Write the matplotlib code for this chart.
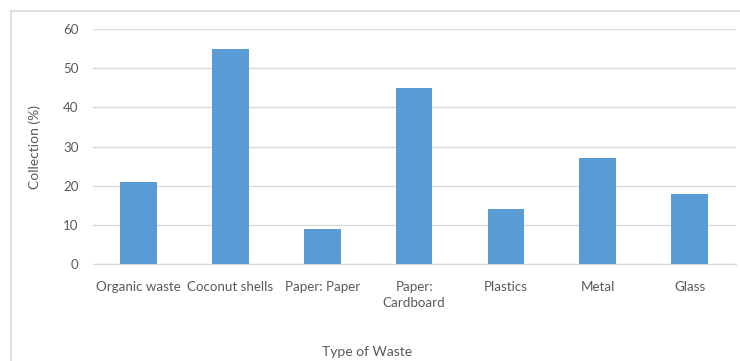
import matplotlib.pyplot as plt
from matplotlib.lines import Line2D

categories = ['Organic waste', 'Coconut shells', 'Paper: Paper', 'Paper:\nCardboard',
              'Plastics', 'Metal', 'Glass']
collection = [21, 55, 9, 45, 14, 27, 18]
yticks = [0, 10, 20, 30, 40, 50, 60]

textColor = '#595959'
plt.rcParams['font.family'] = ['Lato', 'DejaVu Sans']

fig = plt.figure(figsize=(7.40, 3.61), dpi=100)
W, H = 740, 361
ax = fig.add_axes([92.6 / W, 1 - 264 / H, (735.6 - 92.6) / W, (264 - 29) / H])

x = list(range(len(categories)))
ax.bar(x, collection, width=0.4, color='#5B9BD5', zorder=3)

ax.set_xlim(-0.5, len(categories) - 0.5)
ax.set_ylim(0, 60)
ax.set_yticks(yticks)
ax.set_xticks(x)
ax.set_xticklabels(categories, fontsize=9.6, color=textColor, linespacing=1.45)
ax.tick_params(axis='y', labelsize=9.6, labelcolor=textColor, length=0, pad=10)
ax.tick_params(axis='x', length=0, pad=12)
ax.yaxis.grid(True, color='#D9D9D9', linewidth=1, zorder=0)

for side in ['top', 'right', 'left']:
    ax.spines[side].set_visible(False)
ax.spines['bottom'].set_color('#D9D9D9')

fig.text(35 / W, 1 - 147 / H, 'Collection (%)', rotation=90, fontsize=10,
         color=textColor, ha='center', va='center')
fig.text(367 / W, 1 - 352 / H, 'Type of Waste', fontsize=10,
         color=textColor, ha='center', va='center')

# chart area border (top and left edges)
fig.add_artist(Line2D([11 / W, 1], [1 - 11 / H, 1 - 11 / H], color='#D9D9D9', linewidth=1.2))
fig.add_artist(Line2D([11 / W, 11 / W], [0, 1 - 11 / H], color='#D9D9D9', linewidth=1.2))

fig.savefig('out.png', dpi=100)
